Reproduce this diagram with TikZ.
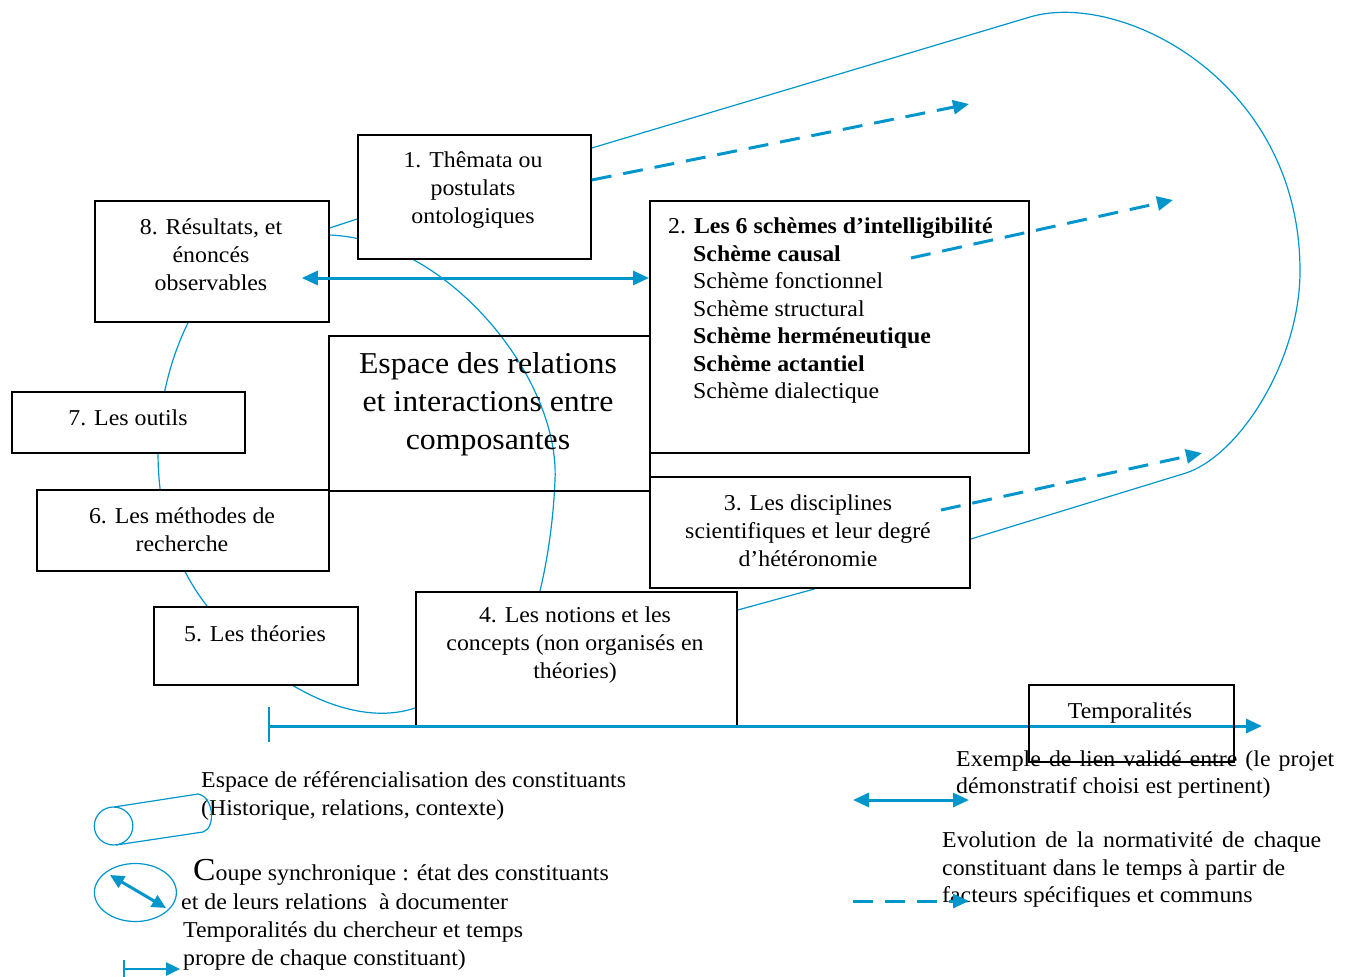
\documentclass[tikz,border=0pt]{standalone}
\usepackage{fontspec}
\setmainfont{Liberation Serif}[FakeStretch=1.05]
\usetikzlibrary{arrows.meta}
\pgfdeclarelayer{background}
\pgfsetlayers{background,main}
\definecolor{lblue}{RGB}{0,150,204}
\tikzset{
  box/.style={draw=black, line width=1.8pt, fill=white, rectangle, inner sep=0pt, anchor=north west},
  openbox/.style={draw=black, line width=1.8pt, rectangle, inner sep=0pt, anchor=north west},
  txt/.style={font=\fontsize{22.7}{28}\selectfont, align=center, inner sep=0pt},
  ltxt/.style={font=\fontsize{22.7}{28}\selectfont, inner sep=0pt, anchor=base west},
  link/.style={draw=lblue, line width=1.2pt},
  bigtip/.style={-{Triangle[length=16pt,width=14pt]}},
  dbl/.style={draw=lblue, line width=3pt, {Triangle[length=16pt,width=14pt]}-{Triangle[length=16pt,width=14pt]}},
  flow/.style={draw=lblue, line width=3pt, dash pattern=on 20pt off 12pt, -{Triangle[length=16pt,width=14pt]}},
  thinmark/.style={draw=lblue, line width=1.4pt}
}
\begin{document}
\begin{tikzpicture}[x=1pt,y=-1pt]
\useasboundingbox (0,0) rectangle (1352,977);

% ---------- boxes ----------
\path
  (357,134) node[box, minimum width=233pt, minimum height=124pt] (b1) {}
  (94,200)  node[box, minimum width=234pt, minimum height=121pt] (b8) {}
  (649,200) node[box, minimum width=379pt, minimum height=252pt] (b2) {}
  (649,476) node[box, minimum width=320pt, minimum height=111pt] (b3) {}
  (415,591) node[box, minimum width=321pt, minimum height=135pt] (b4) {}
  (153,606) node[box, minimum width=204pt, minimum height=78pt] (b5) {}
  (36,489)  node[box, minimum width=292pt, minimum height=81pt] (b6) {}
  (11,391)  node[box, minimum width=233pt, minimum height=61pt] (b7) {};
\node[openbox, minimum width=321pt, minimum height=155pt] (esp) at (328,335) {};

% ---------- blue thin connectors (behind boxes) ----------
\coordinate (loopA) at (1030,17);
\coordinate (loopB) at (1300,271);
\coordinate (loopC) at (1186,473);
\begin{pgfonlayer}{background}
\draw[link] ([yshift=-14pt]b1.north east) -- (loopA)
   .. controls (1120,-10) and (1300,80) .. (loopB)
   .. controls (1300,360) and (1240,455) .. (loopC)
   -- ([yshift=-63pt]b3.north east);
\draw[link] ([yshift=-28pt]b8.north east) -- ([yshift=-85pt]b1.north west);
\draw[link] ([yshift=-35pt]b8.north east)
   .. controls (450,240) and (560,380) .. (555,480)
   .. controls (553,530) and (545,570) .. ([xshift=125pt]b4.north west);
\draw[link] ([xshift=94pt]b8.south west)
   .. controls (150,400) and (140,520) .. ([xshift=54pt]b5.north west)
   .. controls (260,680) and (350,730) .. ([yshift=-117pt]b4.north west);
\draw[link] ([xshift=166pt]b3.south west) -- ([yshift=-19pt]b4.north east);
\end{pgfonlayer}

% ---------- texts ----------
\node[txt] (t1) at (473,190) {1. Thêmata ou\\postulats\\ontologiques};
\node[txt] (t8) at (211,255) {8. Résultats, et\\énoncés\\observables};
\node[txt, font=\fontsize{30.3}{38}\selectfont] (tesp) at (488,404) {Espace des relations\\et interactions entre\\composantes};
\node[txt, anchor=base] (t7) at (128,425) {7. Les outils};
\node[txt] (t6) at (182,530) {6. Les méthodes de\\recherche};
\node[txt] (t3) at (808,531) {3. Les disciplines\\scientifiques et leur degré\\d’hétéronomie};
\node[txt, anchor=base] (t5) at (255,641) {5. Les théories};
\node[txt] (t4) at (575,645) {4. Les notions et les\\concepts (non organisés en\\théories)};
\node[inner sep=0pt, anchor=north west, align=left, font=\fontsize{22.7}{27.5}\selectfont] (t2) at (668,218)
  {2. \textbf{Les 6 schèmes d’intelligibilité}\\
   \hspace*{25pt}\textbf{Schème causal}\\
   \hspace*{25pt}Schème fonctionnel\\
   \hspace*{25pt}Schème structural\\
   \hspace*{25pt}\textbf{Schème herméneutique}\\
   \hspace*{25pt}\textbf{Schème actantiel}\\
   \hspace*{25pt}Schème dialectique};

% ---------- thick blue arrows ----------
\draw[dbl] ([xshift=-28pt,yshift=-78pt]b8.north east) -- ([yshift=-78pt]b2.north west);
\coordinate (f1) at (969,104);
\coordinate (f2) at (1173,200);
\coordinate (f3) at (1202,453);
\draw[flow] ([yshift=-46pt]b1.north east) -- (f1);
\coordinate (f2s) at (911,258);
\coordinate (f3s) at (941,510);
\draw[flow] (f2s) -- (f2);
\draw[flow] (f3s) -- (f3);

% ---------- timeline ----------
\coordinate (tls) at (269,726);
\coordinate (tle) at (1262,726);
\coordinate (tk1) at (269,707);
\coordinate (tk2) at (269,742);
\draw[thinmark] (tk1) -- (tk2);
\draw[draw=lblue, line width=3pt, bigtip] (tls) -- (tle);

% ---------- legend right ----------
\node[ltxt] (lex1) at (956,766) {\makebox[378pt][s]{Exemple de lien validé entre (le projet}};
\node[ltxt] (lex2) at (956,793) {démonstratif choisi est pertinent)};
\node[ltxt] (lev1) at (942,847) {\makebox[379pt][s]{Evolution de la normativité de chaque}};
\node[ltxt] (lev2) at (942,875) {constituant dans le temps à partir de};
\node[ltxt] (lev3) at (942,902) {facteurs spécifiques et communs};
\coordinate (da1) at (853,800);
\coordinate (da2) at (969,800);
\draw[dbl] (da1) -- (da2);
\coordinate (ds1) at (853,901);
\coordinate (ds2) at (969,901);
\draw[flow] (ds1) -- (ds2);

% Temporalites box (no fill, over the text)
\node[ltxt, anchor=base] (ttemp) at (1130,718) {Temporalités};
\node[openbox, minimum width=205pt, minimum height=77pt] (btemp) at (1028,684) {};

% ---------- legend left ----------
\node[ltxt] (lc1) at (201,787) {Espace de référencialisation des constituants};
\node[ltxt] (lc2) at (201,815) {(Historique, relations, contexte)};
% cylinder
\draw[link] (113.6,826) ellipse [x radius=19.3, y radius=19];
\draw[link] (114,807) -- (198,794);
\draw[link] (116,845) -- (203,832);
\draw[link] (198,794) .. controls (214,797) and (216,828) .. (203,832);
% ellipse with double arrow
\draw[link] (135.4,892.5) ellipse [x radius=41, y radius=29];
\coordinate (ea1) at (110,875);
\coordinate (ea2) at (166,908);
\draw[draw=lblue, line width=3pt, {Triangle[length=14pt,width=13pt]}-{Triangle[length=14pt,width=13pt]}] (ea1) -- (ea2);
\node[ltxt] (lk1) at (193,880) {{\fontsize{32}{32}\selectfont C}oupe synchronique : état des constituants};
\node[ltxt] (lk2) at (181,909) {et de leurs relations \ à documenter};
\node[ltxt] (lk3) at (183,937) {Temporalités du chercheur et temps};
\node[ltxt] (lk4) at (183,965) {propre de chaque constituant)};
% small time arrow
\coordinate (sk1) at (124,960);
\coordinate (sk2) at (124,977);
\draw[thinmark] (sk1) -- (sk2);
\coordinate (sa1) at (124,969);
\coordinate (sa2) at (180,969);
\draw[draw=lblue, line width=2.5pt, -{Triangle[length=14pt,width=13pt]}] (sa1) -- (sa2);
\end{tikzpicture}
\end{document}
